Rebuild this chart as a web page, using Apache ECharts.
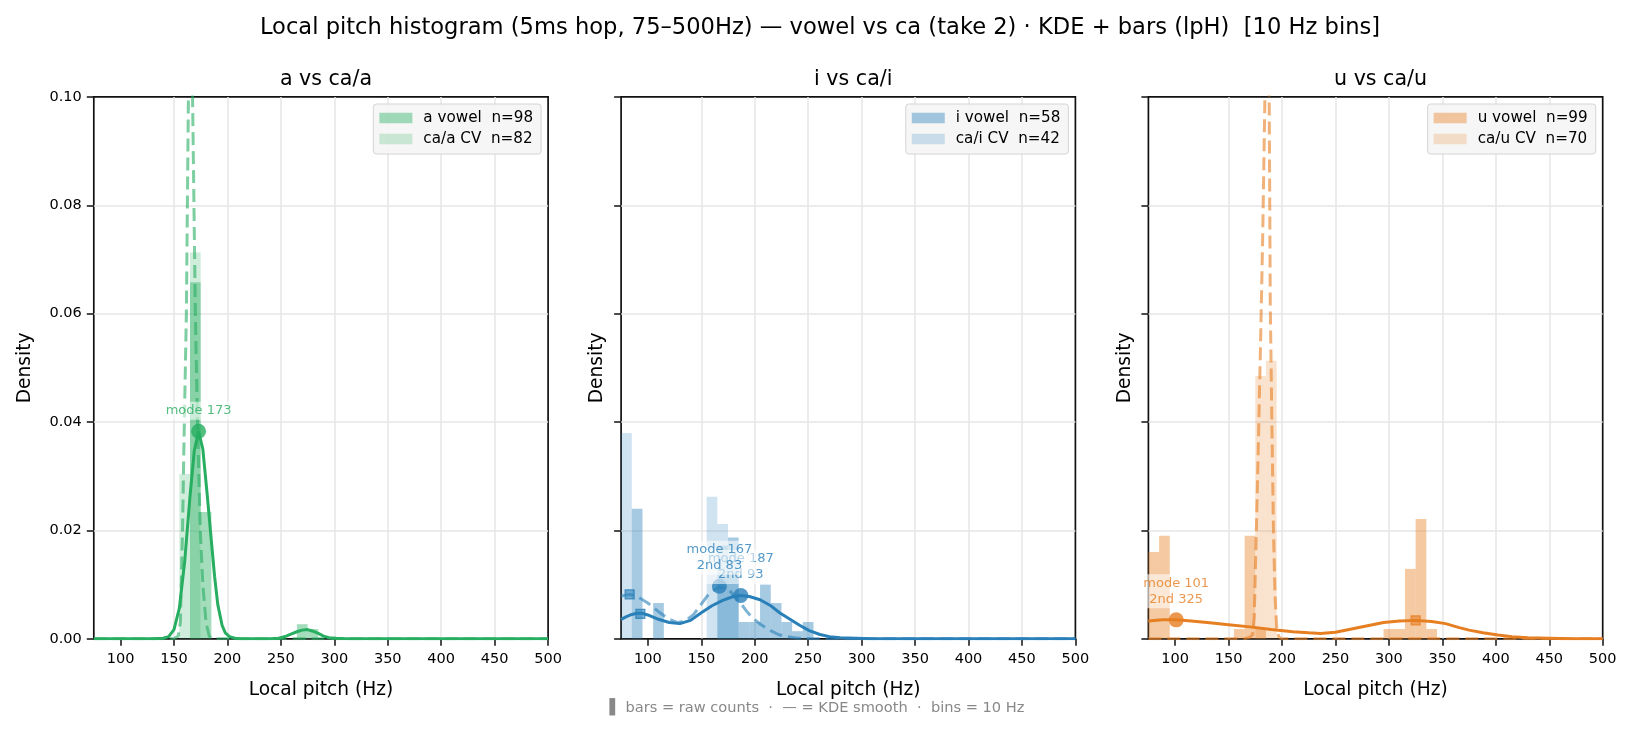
<!DOCTYPE html>
<html>
<head>
<meta charset="utf-8">
<script src="https://cdn.jsdelivr.net/npm/echarts@6/dist/echarts.min.js"></script>
<style>
  html, body { margin: 0; padding: 0; background: #fff; }
  #chart { width: 1634px; height: 732px; }
</style>
</head>
<body>
<div id="chart"></div>
<script>
const FONT = '"DejaVu Sans", sans-serif';
const BIN = 10;

const xTicks = [100, 150, 200, 250, 300, 350, 400, 450, 500];
const panelTitles = ['a vs ca/a', 'i vs ca/i', 'u vs ca/u'];
const panelColors = ['#27ae60', '#2980b9', '#e67e22'];
const vowelNames = ['a vowel  n=98', 'i vowel  n=58', 'u vowel  n=99'];
const cvNames = ['ca/a CV  n=82', 'ca/i CV  n=42', 'ca/u CV  n=70'];

// histogram bars: [bin start (Hz), density]
const aVowelBars = [[165, 0.0658], [175, 0.0234], [265, 0.0027], [275, 0.0018]];
const caACvBars = [[155, 0.0304], [165, 0.0713]];
const iVowelBars = [[85, 0.0240], [105, 0.0066], [165, 0.0172], [175, 0.0187], [185, 0.0031], [195, 0.0031],
  [205, 0.0100], [215, 0.0066], [225, 0.0031], [235, 0.0014], [245, 0.0031]];
const caICvBars = [[75, 0.0380], [155, 0.0262], [165, 0.0212], [175, 0.0143]];
const uVowelBars = [[75, 0.0160], [85, 0.0190], [155, 0.0018], [165, 0.0190], [175, 0.0020], [295, 0.0018],
  [305, 0.0018], [315, 0.0129], [325, 0.0221], [335, 0.0018]];
const caUCvBars = [[175, 0.0485], [185, 0.0513]];

// KDE curves: [Hz, density]
const aVowelKde = [[75, 0], [130, 0], [140, 0.0001], [145, 0.0004], [150, 0.0017], [155, 0.0056], [160, 0.0142],
  [165, 0.0263], [169, 0.0347], [173, 0.0383], [177, 0.0350], [181, 0.0268], [185, 0.0180], [188, 0.0115],
  [191, 0.0063], [195, 0.0025], [198, 0.0011], [202, 0.0004], [207, 0.0001], [212, 0], [240, 0], [248, 0.0001],
  [255, 0.0005], [260, 0.0009], [265, 0.0013], [270, 0.0016], [275, 0.0017], [280, 0.0014], [285, 0.0010],
  [290, 0.0005], [295, 0.0002], [302, 0.0001], [310, 0], [500, 0]];
const caACvKde = [[75, 0], [150, 0], [154, 0.0005], [156, 0.003], [158, 0.020], [159.7, 0.040], [161.6, 0.060],
  [163.5, 0.100], [165.5, 0.118], [167.4, 0.100], [170, 0.060], [172, 0.040], [174.6, 0.020], [177, 0.010],
  [180, 0.003], [183, 0.0005], [186, 0], [500, 0]];
const iVowelKde = [[75, 0.0036], [80, 0.0041], [85, 0.0045], [90, 0.0047], [95, 0.0047], [100, 0.0044],
  [110, 0.0036], [120, 0.0030], [130, 0.0028], [140, 0.0034], [150, 0.0048], [160, 0.0061], [170, 0.0071],
  [180, 0.0078], [187, 0.0080], [195, 0.0078], [205, 0.0072], [215, 0.0061], [224, 0.0047], [233, 0.0036],
  [242, 0.0025], [251, 0.0015], [261, 0.0008], [270, 0.0004], [280, 0.0002], [295, 0.0001], [310, 0], [500, 0]];
const caICvKde = [[75, 0.0079], [83, 0.0082], [90, 0.0078], [100, 0.0066], [110, 0.0050], [120, 0.0036],
  [128, 0.0030], [135, 0.0033], [143, 0.0045], [150, 0.0064], [158, 0.0085], [167, 0.0096], [176, 0.0090],
  [186, 0.0068], [192, 0.0052], [198, 0.0038], [206, 0.0026], [214, 0.0016], [222, 0.0008], [230, 0.0004],
  [240, 0.0001], [255, 0], [500, 0]];
const uVowelKde = [[75, 0.0033], [88, 0.0035], [101, 0.0035], [115, 0.0033], [130, 0.0030], [150, 0.0026],
  [170, 0.0022], [190, 0.0017], [210, 0.0013], [225, 0.0011], [236, 0.0010], [250, 0.0012], [265, 0.0018],
  [280, 0.0024], [295, 0.0030], [310, 0.0033], [325, 0.0034], [340, 0.0032], [353, 0.0028], [365, 0.0021],
  [375, 0.0016], [388, 0.0011], [402, 0.0007], [415, 0.0004], [430, 0.0002], [450, 0.0001], [470, 0], [500, 0]];
const caUCvKde = [[75, 0], [165, 0], [170, 0.0003], [172.5, 0.0008], [174, 0.004], [176, 0.020], [178, 0.037],
  [180.5, 0.060], [182, 0.075], [184, 0.100], [186, 0.112], [188, 0.100], [189, 0.062], [190.5, 0.040],
  [192, 0.020], [193.5, 0.008], [195, 0.002], [197, 0.0003], [200, 0], [500, 0]];

// modes: [Hz, density, label]; secondary modes: [Hz, density]
const aVowelModes = [[173, 0.0383, 'mode 173']];
const iVowelModes = [[187, 0.0080, 'mode 187\n2nd 93']];
const caICvModes = [[167, 0.0097, 'mode 167\n2nd 83']];
const uVowelModes = [[101, 0.0035, 'mode 101\n2nd 325']];
const iVowelSecond = [[93, 0.0046]];
const caICvSecond = [[83, 0.0082]];
const uVowelSecond = [[325, 0.0034]];

const panels = [
  {vBars: aVowelBars, cBars: caACvBars, vKde: aVowelKde, cKde: caACvKde, vModes: aVowelModes, cModes: [], vSecond: [], cSecond: []},
  {vBars: iVowelBars, cBars: caICvBars, vKde: iVowelKde, cKde: caICvKde, vModes: iVowelModes, cModes: caICvModes, vSecond: iVowelSecond, cSecond: caICvSecond},
  {vBars: uVowelBars, cBars: caUCvBars, vKde: uVowelKde, cKde: caUCvKde, vModes: uVowelModes, cModes: [], vSecond: uVowelSecond, cSecond: []}
];

const gridLeft = [93.8, 621.1, 1148.4];
const gridTop = 96.9, gridW = 454.3, gridH = 541.9;

function rgba(hex, a) {
  const n = parseInt(hex.slice(1), 16);
  return `rgba(${n >> 16},${(n >> 8) & 255},${n & 255},${a})`;
}

function barRender(params, api) {
  const lo = api.value(0);
  const top = api.coord([lo, api.value(1)]);
  const base = api.coord([lo + BIN, 0]);
  return {
    type: 'rect',
    shape: {x: top[0], y: top[1], width: base[0] - top[0], height: base[1] - top[1]},
    style: {fill: api.visual('color')}
  };
}

const chart = echarts.init(document.getElementById('chart'));

let grids = [], xAxes = [], yAxes = [], series = [], legends = [];
let titles = [
  {text: 'Local pitch histogram (5ms hop, 75\u2013500Hz) \u2014 vowel vs ca (take 2) \u00b7 KDE + bars (lpH)  [10 Hz bins]',
   left: 815, textAlign: 'center', top: 12,
   textStyle: {fontFamily: FONT, fontSize: 22.6, fontWeight: 'normal', color: '#000'}},
  {text: '\u258c bars = raw counts  \u00b7  \u2014 = KDE smooth  \u00b7  bins = 10 Hz',
   left: 812, textAlign: 'center', top: 696,
   textStyle: {fontFamily: FONT, fontSize: 14.6, fontWeight: 'normal', color: '#888'}}
];

const splitStyle = {show: true, showMinLine: false, showMaxLine: false, lineStyle: {color: '#e6e6e6', width: 1.5}};

panels.forEach((p, i) => {
  const col = panelColors[i];
  grids.push({left: gridLeft[i], top: gridTop, width: gridW, height: gridH,
    show: true, borderColor: '#111', borderWidth: 1.7, backgroundColor: 'transparent'});
  xAxes.push({
    gridIndex: i, type: 'value', min: 75, max: 500,
    axisLine: {show: false},
    axisTick: {show: true, length: 7, customValues: xTicks, lineStyle: {color: '#111', width: 1.5}},
    axisLabel: {customValues: xTicks, fontFamily: FONT, fontSize: 14.5, color: '#000', margin: 13},
    splitLine: splitStyle,
    name: 'Local pitch (Hz)', nameLocation: 'middle', nameGap: 42,
    nameTextStyle: {fontFamily: FONT, fontSize: 18.6, color: '#000'}
  });
  yAxes.push({
    gridIndex: i, type: 'value', min: 0, max: 0.1, interval: 0.02,
    axisLine: {show: false},
    axisTick: {show: true, length: 7, lineStyle: {color: '#111', width: 1.5}},
    axisLabel: {show: i === 0, formatter: v => v.toFixed(2), fontFamily: FONT, fontSize: 14.5, color: '#000', margin: 12},
    splitLine: splitStyle,
    name: 'Density', nameLocation: 'middle', nameGap: i === 0 ? 59 : 14,
    nameTextStyle: {fontFamily: FONT, fontSize: 18.6, color: '#000'}
  });
  titles.push({text: panelTitles[i], left: gridLeft[i] + gridW / 2, textAlign: 'center', top: 64,
    textStyle: {fontFamily: FONT, fontSize: 20.6, fontWeight: 'normal', color: '#000'}});

  series.push({name: cvNames[i], type: 'custom', xAxisIndex: i, yAxisIndex: i, renderItem: barRender,
    itemStyle: {color: rgba(col, 0.22)}, data: p.cBars, z: 1});
  series.push({name: vowelNames[i], type: 'custom', xAxisIndex: i, yAxisIndex: i, renderItem: barRender,
    itemStyle: {color: rgba(col, 0.42)}, data: p.vBars, z: 1});
  series.push({type: 'line', xAxisIndex: i, yAxisIndex: i, data: p.cKde, showSymbol: false, clip: true, z: 2,
    lineStyle: {color: col, opacity: 0.6, width: 3, type: [13, 6]}});
  series.push({type: 'line', xAxisIndex: i, yAxisIndex: i, data: p.vKde, showSymbol: false, clip: true, z: 2,
    lineStyle: {color: col, width: 3}});

  const markLabel = {show: true, position: 'top', distance: 4, formatter: '{b}', color: col,
    fontFamily: FONT, fontSize: 13, lineHeight: 16, align: 'center',
    backgroundColor: 'rgba(255,255,255,0.72)', padding: [1, 2]};
  [[p.vSecond, p.vModes], [p.cSecond, p.cModes]].forEach(([sec, modes]) => {
    series.push({type: 'scatter', xAxisIndex: i, yAxisIndex: i, symbol: 'rect', symbolSize: 9, z: 3,
      itemStyle: {color: rgba(col, 0.75), borderColor: col, borderWidth: 1.2}, data: sec});
    series.push({type: 'scatter', xAxisIndex: i, yAxisIndex: i, symbol: 'circle', symbolSize: 15, z: 3,
      itemStyle: {color: col}, label: markLabel,
      data: modes.map(m => ({name: m[2], value: [m[0], m[1]]}))});
  });

  legends.push({
    data: [{name: vowelNames[i], icon: 'rect'}, {name: cvNames[i], icon: 'rect'}],
    orient: 'vertical', right: 1634 - (gridLeft[i] + gridW) + 7, top: 104,
    itemWidth: 33, itemHeight: 10.5, itemGap: 5, selectedMode: false,
    backgroundColor: 'rgba(245,245,245,0.92)', borderColor: '#d4d4d4', borderWidth: 1, borderRadius: 3,
    padding: [6, 8, 7, 6],
    textStyle: {fontFamily: FONT, fontSize: 15.2, lineHeight: 16, color: '#000', padding: [0, 0, 0, 6]}
  });
});

chart.setOption({
  animation: false,
  backgroundColor: '#fff',
  title: titles,
  grid: grids,
  xAxis: xAxes,
  yAxis: yAxes,
  legend: legends,
  series: series
});
</script>
</body>
</html>
